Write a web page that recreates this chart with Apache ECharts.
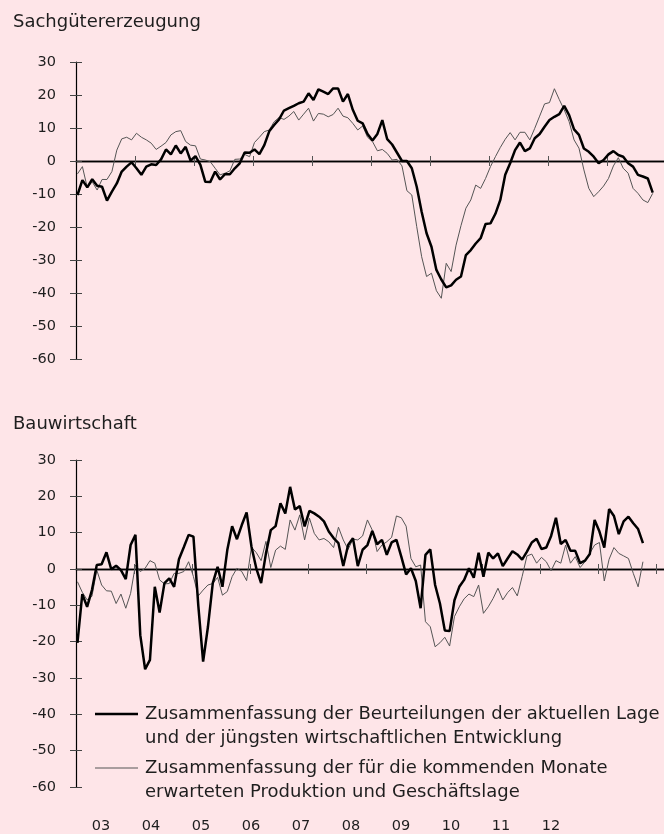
<!DOCTYPE html>
<html>
<head>
<meta charset="utf-8">
<script src="https://cdn.jsdelivr.net/npm/echarts@6/dist/echarts.min.js"></script>
<style>
  html, body { margin: 0; padding: 0; background: #fee5e8; }
  #main { width: 664px; height: 834px; }
</style>
</head>
<body>
<div id="main"></div>
<script>
// monatswerte jan 2003 - okt 2012
var sachAktuell = [
  -10.3, -5.8, -8, -5.5, -7.5, -7.8, -12, -9.3, -6.8, -3.2, -1.7, -0.4,
  -2.2, -4.2, -1.7, -1, -1.2, 0.5, 3.5, 2, 4.7, 2.3, 4.3, 0.1,
  1.5, -1.2, -6.3, -6.4, -3.2, -5.6, -4, -4, -2.2, -0.7, 2.6, 2.5,
  3.5, 2.1, 4.8, 9, 10.9, 12.6, 15.3, 16, 16.7, 17.5, 18, 20.5,
  18.5, 21.7, 21, 20.3, 22, 22, 18, 20.3, 15.5, 12.2, 11.4, 8.2,
  6.2, 8.2, 12.4, 6.6, 5, 2.5, 0, 0, -2.2, -7.8, -15.4, -21.9,
  -26, -33, -35.9, -38.3, -37.7, -36, -35, -28.5, -27, -25, -23.4, -19.1,
  -18.9, -16, -11.8, -4.2, -0.7, 3.3, 5.6, 3, 3.8, 6.9, 8.2, 10.4,
  12.4, 13.4, 14.2, 16.7, 13.9, 9.6, 7.9, 3.8, 2.8, 1.3, -0.7, 0.3,
  2, 3, 1.8, 1.3, -0.7, -1.7, -4.2, -4.7, -5.3, -9.6
];
var sachErwartet = [
  -3.9, -1.7, -8.1, -6.3, -8.8, -5.6, -5.6, -3.2, 3.3, 6.7, 7.2, 6.4,
  8.4, 7.2, 6.4, 5.4, 3.5, 4.5, 5.6, 7.9, 8.9, 9.2, 5.9, 4.8,
  4.6, 0.6, 0.3, -0.2, -2.2, -4.2, -3.7, -3, 0.5, 0.6, 2, 1.3,
  5.6, 7.2, 8.9, 9.4, 11.9, 13.2, 12.6, 13.6, 15, 12.4, 14.2, 16,
  12.1, 14.4, 14.2, 13.4, 14.1, 16, 13.6, 13.1, 11.4, 9.4, 10.6, 7.2,
  5.9, 3.1, 3.5, 2.3, 0.3, 0.5, -1.5, -9, -10.3, -19.9, -29, -35,
  -34, -39.3, -41.6, -31, -33.5, -25.5, -19.6, -14.3, -11.8, -7.3, -8.3, -5.3,
  -1.7, 1.3, 4.1, 6.6, 8.6, 6.4, 8.7, 8.7, 6.4, 9.9, 13.6, 17.3,
  17.7, 21.9, 18.6, 15.5, 11.9, 6.4, 3.9, -2.7, -8.3, -10.8, -9.3, -7.6,
  -5.3, -1.5, 1, -2.2, -3.7, -8.3, -9.8, -11.8, -12.6, -9.8
];
var bauAktuell = [
  -20.3, -6.9, -10.4, -5.8, 1.1, 1.3, 4.6, -0.1, 0.9, -0.3, -2.8, 6.6,
  9.4, -18.2, -27.6, -25, -4.9, -12, -3.9, -2.6, -4.9, 2.7, 6, 9.4,
  8.9, -10, -25.5, -15.9, -3.9, 0.6, -4.9, 5.2, 11.8, 8.2, 12.1, 15.6,
  6.2, 0.2, -3.9, 4.3, 10.7, 11.8, 18.1, 15.3, 22.6, 16.4, 17.3, 11.7,
  16, 15.3, 14.4, 13.1, 10.3, 8.5, 7.1, 0.8, 6.6, 8.5, 0.8, 5.3,
  6.6, 10.5, 6.8, 8, 3.9, 7.3, 8, 3.4, -1.5, 0.2, -3.3, -10.8,
  3.9, 5.4, -4.4, -9.5, -16.9, -17.1, -8.6, -4.9, -3, 0.2, -2.4, 4.5,
  -2.1, 4.5, 2.9, 4.3, 0.8, 2.9, 4.9, 4, 2.6, 4.8, 7.3, 8.3,
  5.5, 5.9, 9.1, 14.1, 6.9, 8, 5, 5, 1.6, 2.3, 4.1, 13.5,
  10.3, 5.9, 16.5, 14.6, 9.6, 13.1, 14.4, 12.6, 11, 7.1
];
var bauErwartet = [
  -3.5, -6.4, -8.5, -7.5, -0.3, -4.4, -6, -6.1, -9.5, -6.9, -10.8, -6.7,
  1.1, -0.7, 0.2, 2.3, 1.6, -3, -4.1, -4, -1.2, -1.2, -0.7, 2,
  -2.1, -7.4, -5.8, -4.4, -4, -2.3, -7.2, -6.2, -2.1, 0.2, -0.7, -3.2,
  6, 4.5, 2.3, 7.6, 0.4, 5.2, 6.3, 5.4, 13.5, 10.7, 14.9, 8,
  14, 9.8, 8, 8.4, 7.5, 5.9, 11.5, 8, 5.4, 8.2, 8, 9.1,
  13.5, 10.7, 4.8, 6.6, 7.5, 8.7, 14.6, 14.1, 11.8, 2.9, 0.6, 1.1,
  -14.5, -15.9, -21.4, -20.3, -18.8, -21.2, -13.1, -10.4, -8.2, -6.9, -7.6, -4.4,
  -12.2, -10.4, -8.1, -5.3, -8.5, -6.5, -5.1, -7.4, -2.1, 3.6, 4.1, 1.6,
  3.2, 2, -0.5, 2.3, 1.6, 6.6, 1.6, 3.4, 0.4, 2, 4.3, 6.6,
  7.3, -3.3, 2.7, 5.9, 4.3, 3.6, 2.9, -1.2, -4.9, 2
];
var jahrLabels = ['03', '04', '05', '06', '07', '08', '09', '10', '11', '12'];
var jahrTicks = [2004, 2005, 2006, 2007, 2008, 2009, 2010, 2011, 2012, 2013];

var fontFam = 'DejaVu Sans';
var txtColor = '#1e1e1e';

function monat(arr) {
    var out = [];
    for (var i = 0; i < arr.length; i++) {
        out.push([2003 + (i + 0.3) / 12, arr[i]]);
    }
    return out;
}

// x-achse auf der nulllinie, ticks nach unten bzw. oben
function xAchse(grid, yIdx, max, pos) {
    return {
        type: 'value', gridIndex: grid, min: 2003, max: max, position: pos,
        axisLine: { onZero: true, onZeroAxisIndex: yIdx, lineStyle: { color: '#000', width: 1.3 } },
        axisTick: { show: true, length: 5, customValues: jahrTicks, lineStyle: { color: '#555' } },
        axisLabel: { show: false },
        splitLine: { show: false }
    };
}
function yAchse(grid) {
    return {
        type: 'value', gridIndex: grid, min: -60, max: 30, interval: 10,
        axisLine: { show: true, lineStyle: { color: '#000', width: 1.2 } },
        axisTick: { show: true, length: 6, lineStyle: { color: '#444' } },
        axisLabel: { show: true, margin: 20, color: txtColor, fontSize: 14.5, fontFamily: fontFam },
        splitLine: { show: false }
    };
}
// zweite y-achse nur fuer die ticks nach innen
function yInnen(grid) {
    return {
        type: 'value', gridIndex: grid, min: -60, max: 30, interval: 10,
        position: 'right', offset: -588,
        axisLine: { show: false },
        axisTick: { show: true, length: 6, lineStyle: { color: '#444' } },
        axisLabel: { show: false },
        splitLine: { show: false }
    };
}

var dom = document.getElementById('main');
var myChart = echarts.init(dom, null, { renderer: 'canvas' });

var option = {
    backgroundColor: '#fee5e8',
    animation: false,
    textStyle: { fontFamily: fontFam },
    title: [
        { text: 'Sachgütererzeugung', left: 8, top: 8, textStyle: { fontSize: 18, fontWeight: 'normal', color: txtColor, fontFamily: fontFam } },
        { text: 'Bauwirtschaft', left: 8, top: 410, textStyle: { fontSize: 18, fontWeight: 'normal', color: txtColor, fontFamily: fontFam } }
    ],
    grid: [
        { left: 76, top: 62, width: 588, height: 297 },
        { left: 76, top: 460, width: 588, height: 327 },
        { left: 76, top: 812, width: 500, height: 1 }
    ],
    xAxis: [
        xAchse(0, 0, 2003 + 588 / 59, 'bottom'),
        xAchse(0, 0, 2003 + 588 / 59, 'top'),
        xAchse(1, 2, 2003 + 588 / 58, 'bottom'),
        xAchse(1, 2, 2003 + 588 / 58, 'top'),
        {
            type: 'category', gridIndex: 2, data: jahrLabels,
            axisLine: { show: false }, axisTick: { show: false },
            axisLabel: { margin: 6, color: txtColor, fontSize: 14.5, fontFamily: fontFam, interval: 0 }
        }
    ],
    yAxis: [
        yAchse(0), yInnen(0),
        yAchse(1), yInnen(1),
        { type: 'value', gridIndex: 2, show: false }
    ],
    graphic: [
        { type: 'line', shape: { x1: 95, y1: 714, x2: 138, y2: 714 }, style: { stroke: '#000', lineWidth: 2.5 } },
        { type: 'text', left: 145, top: 702, style: { text: 'Zusammenfassung der Beurteilungen der aktuellen Lage\nund der jüngsten wirtschaftlichen Entwicklung', font: '18px "DejaVu Sans"', fill: txtColor, lineHeight: 24 } },
        { type: 'line', shape: { x1: 95, y1: 768, x2: 138, y2: 768 }, style: { stroke: '#555', lineWidth: 1 } },
        { type: 'text', left: 145, top: 756, style: { text: 'Zusammenfassung der für die kommenden Monate\nerwarteten Produktion und Geschäftslage', font: '18px "DejaVu Sans"', fill: txtColor, lineHeight: 24 } }
    ],
    series: [
        { name: 'erwartet', type: 'line', xAxisIndex: 0, yAxisIndex: 0, data: monat(sachErwartet), symbol: 'none', lineStyle: { color: '#555', width: 1 } },
        { name: 'aktuell', type: 'line', xAxisIndex: 0, yAxisIndex: 0, data: monat(sachAktuell), symbol: 'none', lineStyle: { color: '#000', width: 2.5 } },
        { name: 'erwartet', type: 'line', xAxisIndex: 2, yAxisIndex: 2, data: monat(bauErwartet), symbol: 'none', lineStyle: { color: '#555', width: 1 } },
        { name: 'aktuell', type: 'line', xAxisIndex: 2, yAxisIndex: 2, data: monat(bauAktuell), symbol: 'none', lineStyle: { color: '#000', width: 2.5 } }
    ]
};
if (option && typeof option === "object") {
    myChart.setOption(option, true);
}
</script>
</body>
</html>
